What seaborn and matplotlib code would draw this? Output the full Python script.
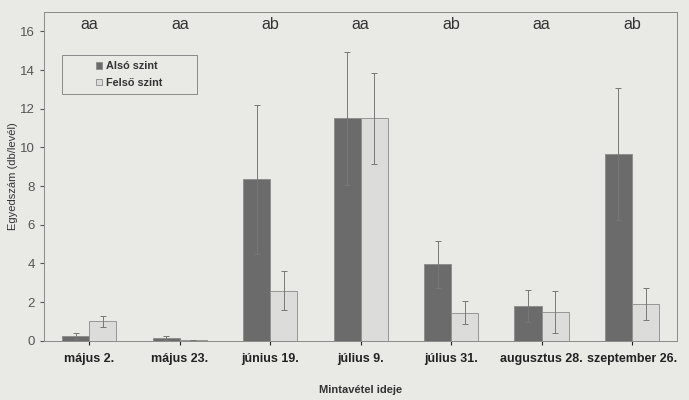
import matplotlib
matplotlib.use('Agg')
import matplotlib.pyplot as plt
from matplotlib.patches import Rectangle
import seaborn as sns
import pandas as pd
import numpy as np

# Data
dates = ['május 2.', 'május 23.', 'június 19.', 'július 9.', 'július 31.',
         'augusztus 28.', 'szeptember 26.']
also = [0.25, 0.15, 8.35, 11.5, 3.95, 1.8, 9.65]
also_err = [0.15, 0.12, 3.85, 3.45, 1.2, 0.85, 3.4]
felso = [1.0, 0.03, 2.6, 11.5, 1.45, 1.5, 1.9]
felso_err = [0.3, 0.02, 1.0, 2.35, 0.6, 1.1, 0.85]
letters = ['aa', 'aa', 'ab', 'aa', 'ab', 'aa', 'ab']

df = pd.DataFrame({'Datum': dates * 2,
                   'Szint': ['Alsó szint'] * 7 + ['Felső szint'] * 7,
                   'Egyedszam': also + felso})

paper = '#e9e9e6'
sns.set_style('ticks')
plt.rcParams['font.family'] = ['Liberation Sans', 'DejaVu Sans']

fig = plt.figure(figsize=(6.89, 4.0), dpi=100, facecolor=paper)
ax = fig.add_axes([0.064, 0.148, 0.919, 0.822])
ax.set_facecolor(paper)

sns.barplot(data=df, x='Datum', y='Egyedszam', hue='Szint', order=dates,
            hue_order=['Alsó szint', 'Felső szint'],
            palette=['#6b6b6b', '#dcdcda'], width=0.6, errorbar=None,
            edgecolor='#8a8a8a', linewidth=0.6, ax=ax)

# error bars placed at the bar centres
for bars, vals, errs in zip(ax.containers, [also, felso], [also_err, felso_err]):
    xs = [p.get_x() + p.get_width() / 2 for p in bars]
    ax.errorbar(xs, vals, yerr=errs, fmt='none', ecolor='#777777',
                elinewidth=0.7, capsize=2, capthick=0.7)

for i, lab in enumerate(letters):
    ax.text(i, 15.95, lab, ha='center', va='bottom', fontsize=11.5,
            color='#333333')

ax.set_ylim(0, 17)
ax.set_yticks(np.arange(0, 17, 2))
ax.set_xlim(-0.5, 6.5)
ax.tick_params(axis='y', labelsize=9.5, colors='#555555', length=3)
ax.tick_params(axis='x', labelsize=9, colors='#222222', length=3, pad=6)
for t in ax.get_xticklabels():
    t.set_fontweight('bold')
for s in ax.spines.values():
    s.set_color('#8a8a8a')
    s.set_linewidth(0.7)

ax.set_xlabel('Mintavétel ideje', fontsize=8, fontweight='bold', color='#333333', labelpad=14)
ax.set_ylabel('Egyedszám (db/levél)', fontsize=8, color='#333333')
ax.yaxis.set_label_coords(-0.042, 0.5)

# legend: frameless, centred in a drawn box
ax.add_patch(Rectangle((0.028, 0.75), 0.213, 0.12, transform=ax.transAxes,
                       facecolor=paper, edgecolor='#8a8a8a', linewidth=0.7,
                       zorder=4))
leg = ax.legend(loc='center', bbox_to_anchor=(0.1345, 0.81), fontsize=7.8,
                frameon=False, handlelength=0.55, handleheight=0.55,
                handletextpad=0.3, labelspacing=0.6)
leg.set_zorder(5)
for t in leg.get_texts():
    t.set_fontweight('bold')
    t.set_color('#333333')

fig.savefig('out.png', dpi=100, facecolor=paper)
